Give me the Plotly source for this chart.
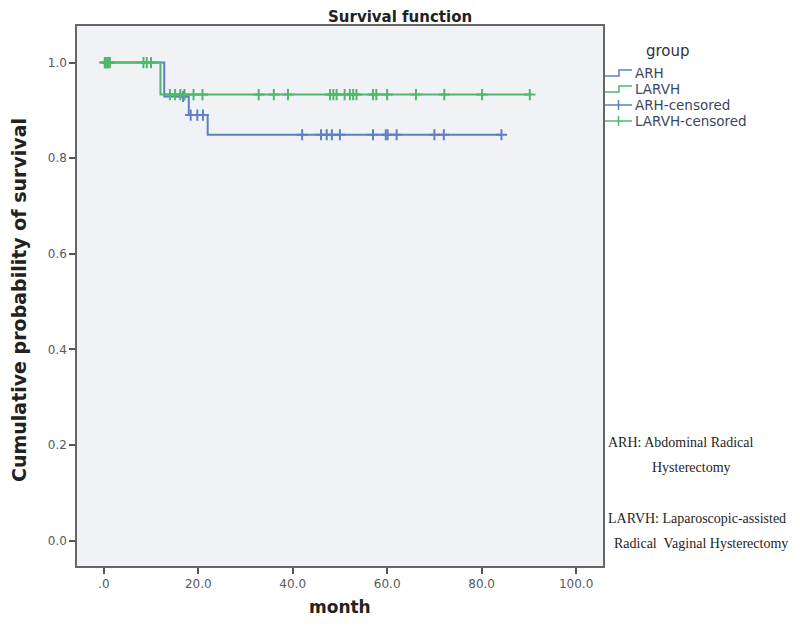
import plotly.graph_objects as go

# ---- data ----
arh_step_time = [0.0, 12.8, 18.0, 22.0, 84.2]
arh_step_surv = [1.0, 0.929, 0.890, 0.849, 0.849]
larvh_step_time = [0.0, 12.0, 90.2]
larvh_step_surv = [1.0, 0.933, 0.933]

arh_censored = [0.5, 1.0, 16.8, 18.4, 19.8, 21.0, 42.0, 46.0, 47.2, 48.3, 50.0,
                57.0, 59.7, 60.1, 62.0, 70.0, 72.0, 84.2]
larvh_censored = [0.2, 0.5, 0.9, 1.3, 8.4, 9.1, 10.0, 14.0, 15.1, 16.2, 17.1, 19.0,
                  20.9, 32.8, 36.0, 39.0, 47.9, 48.6, 49.3, 51.0, 52.1, 52.8, 53.5,
                  57.0, 57.7, 60.0, 66.1, 72.1, 80.1, 90.2]

x_tickvals = [0, 20, 40, 60, 80, 100]
x_ticktext = [".0", "20.0", "40.0", "60.0", "80.0", "100.0"]
y_tickvals = [0.0, 0.2, 0.4, 0.6, 0.8, 1.0]
legend_labels = ["ARH", "LARVH", "ARH-censored", "LARVH-censored"]
notes = ["ARH: Abdominal Radical", "Hysterectomy",
         "LARVH: Laparoscopic-assisted", "Radical  Vaginal Hysterectomy"]

BLUE = "#5f80c4"
GREEN = "#4fb86a"


def surv_at(times, survs, t):
    s = survs[0]
    for tt, ss in zip(times, survs):
        if tt <= t:
            s = ss
    return s


fig = go.Figure()
fig.add_trace(go.Scatter(x=arh_step_time, y=arh_step_surv, mode="lines",
                         line=dict(color=BLUE, width=2, shape="hv"),
                         showlegend=False, hoverinfo="skip"))
fig.add_trace(go.Scatter(x=larvh_step_time, y=larvh_step_surv, mode="lines",
                         line=dict(color=GREEN, width=2, shape="hv"),
                         showlegend=False, hoverinfo="skip"))
fig.add_trace(go.Scatter(x=arh_censored,
                         y=[surv_at(arh_step_time, arh_step_surv, t) for t in arh_censored],
                         mode="markers",
                         marker=dict(symbol="cross-thin", size=8, line=dict(color=BLUE, width=2)),
                         showlegend=False, hoverinfo="skip"))
fig.add_trace(go.Scatter(x=larvh_censored,
                         y=[surv_at(larvh_step_time, larvh_step_surv, t) for t in larvh_censored],
                         mode="markers",
                         marker=dict(symbol="cross-thin", size=8, line=dict(color=GREEN, width=2)),
                         showlegend=False, hoverinfo="skip"))

# ---- layout (page pixel coordinates; the page body adds an 8px offset) ----
OFF = 8
W, H = 800 - 2 * OFF, 626 - 2 * OFF
L, R, T, B = 77, 603, 26, 566  # plot frame in page pixels


def px(x):
    return (x - L) / (R - L)


def py(y):
    return (B - y) / (B - T)


shapes = []
annotations = []
leg_colors = [BLUE, GREEN, BLUE, GREEN]
leg_y = [73, 89, 105, 121]
for i, (lab, col, yy) in enumerate(zip(legend_labels, leg_colors, leg_y)):
    if i < 2:
        path = "M {} {} L {} {} L {} {} L {} {}".format(
            px(605), py(yy + 3), px(619), py(yy + 3), px(619), py(yy - 3), px(632), py(yy - 3))
        shapes.append(dict(type="path", path=path, xref="paper", yref="paper",
                           line=dict(color=col, width=1.5)))
    else:
        shapes.append(dict(type="line", xref="paper", yref="paper",
                           x0=px(605), x1=px(632), y0=py(yy), y1=py(yy),
                           line=dict(color=col, width=1.5)))
        shapes.append(dict(type="line", xref="paper", yref="paper",
                           x0=px(618.5), x1=px(618.5), y0=py(yy - 5), y1=py(yy + 5),
                           line=dict(color=col, width=1.5)))
    annotations.append(dict(text=lab, xref="paper", yref="paper", x=px(633), y=py(yy),
                            xanchor="left", yanchor="middle", showarrow=False,
                            font=dict(family="DejaVu Sans", size=13.5, color="#3b4660")))

annotations.append(dict(text="group", xref="paper", yref="paper", x=px(668), y=py(51),
                        xanchor="center", yanchor="middle", showarrow=False,
                        font=dict(family="DejaVu Sans", size=15, color="#333333")))

note_pos = [(606, 442), (650, 467), (606, 518), (612, 543)]
for txt, (xx, yy) in zip(notes, note_pos):
    annotations.append(dict(text=txt, xref="paper", yref="paper", x=px(xx), y=py(yy),
                            xanchor="left", yanchor="middle", showarrow=False,
                            font=dict(family="Liberation Serif", size=14, color="#1e1e1e")))

# axis titles as annotations for exact placement
annotations.append(dict(text="<b>Cumulative probability of survival</b>", xref="paper",
                        yref="paper", x=px(19), y=py(300), xanchor="center",
                        yanchor="middle", textangle=-90, showarrow=False,
                        font=dict(family="DejaVu Sans", size=19, color="#222222")))
annotations.append(dict(text="<b>month</b>", xref="paper", yref="paper",
                        x=px(340), y=py(607), xanchor="center", yanchor="middle",
                        showarrow=False,
                        font=dict(family="DejaVu Sans", size=17, color="#222222")))
# chart title
annotations.append(dict(text="<b>Survival function</b>", xref="paper", yref="paper",
                        x=px(400), y=py(17.5), xanchor="center", yanchor="middle",
                        showarrow=False,
                        font=dict(family="DejaVu Sans", size=15, color="#222222")))

fig.update_layout(
    width=W, height=H,
    margin=dict(l=L - OFF, r=W + OFF - R, t=T - OFF, b=H + OFF - B),
    paper_bgcolor="white",
    plot_bgcolor="#f1f2f5",
    showlegend=False,
    xaxis=dict(range=[-5.67, 105.7], tickvals=x_tickvals, ticktext=x_ticktext,
               automargin=False,
               showgrid=False, zeroline=False, showline=True, mirror=True,
               linecolor="#666666", linewidth=1.5, ticks="outside", ticklen=6,
               tickcolor="#555555", tickwidth=1.5,
               tickfont=dict(family="DejaVu Sans", size=12, color="#555a60")),
    yaxis=dict(range=[-0.053, 1.0764], tickvals=y_tickvals, tickformat=".1f",
               automargin=False,
               showgrid=False, zeroline=False, showline=True, mirror=True,
               linecolor="#666666", linewidth=1.5, ticks="outside", ticklen=6,
               tickcolor="#555555", tickwidth=1.5,
               tickfont=dict(family="DejaVu Sans", size=12, color="#555a60")),
    shapes=shapes,
    annotations=annotations,
)

fig.write_html("out.html")
